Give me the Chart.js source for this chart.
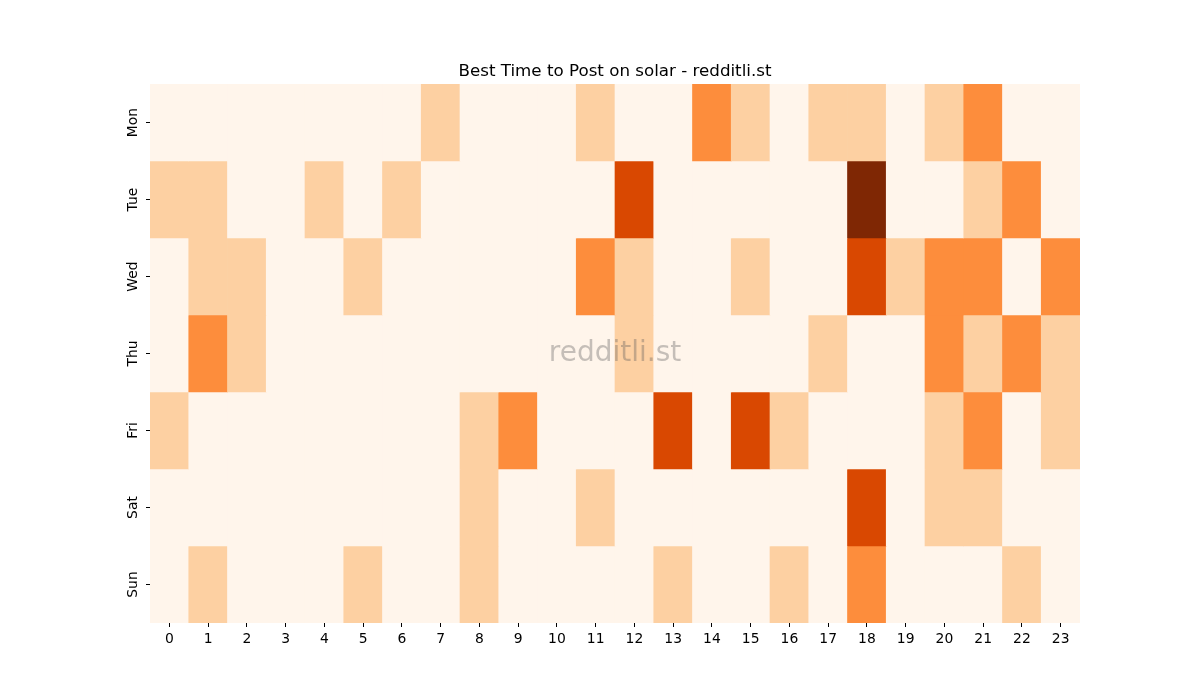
<!DOCTYPE html>
<html>
<head>
<meta charset="utf-8">
<script src="https://cdn.jsdelivr.net/npm/chart.js@4"></script>
<style>
  html, body { margin: 0; padding: 0; background: #fff; }
  #wrap { width: 1200px; height: 700px; }
</style>
</head>
<body>
<div id="wrap"><canvas id="heatmap"></canvas></div>
<script>
const days = ['Mon', 'Tue', 'Wed', 'Thu', 'Fri', 'Sat', 'Sun'];
const hours = ['0', '1', '2', '3', '4', '5', '6', '7', '8', '9', '10', '11',
               '12', '13', '14', '15', '16', '17', '18', '19', '20', '21', '22', '23'];

// post counts per hour, one array per day
const mon = [0, 0, 0, 0, 0, 0, 0, 1, 0, 0, 0, 1, 0, 0, 2, 1, 0, 1, 1, 0, 1, 2, 0, 0];
const tue = [1, 1, 0, 0, 1, 0, 1, 0, 0, 0, 0, 0, 3, 0, 0, 0, 0, 0, 4, 0, 0, 1, 2, 0];
const wed = [0, 1, 1, 0, 0, 1, 0, 0, 0, 0, 0, 2, 1, 0, 0, 1, 0, 0, 3, 1, 2, 2, 0, 2];
const thu = [0, 2, 1, 0, 0, 0, 0, 0, 0, 0, 0, 0, 1, 0, 0, 0, 0, 1, 0, 0, 2, 1, 2, 1];
const fri = [1, 0, 0, 0, 0, 0, 0, 0, 1, 2, 0, 0, 0, 3, 0, 3, 1, 0, 0, 0, 1, 2, 0, 1];
const sat = [0, 0, 0, 0, 0, 0, 0, 0, 1, 0, 0, 1, 0, 0, 0, 0, 0, 0, 3, 0, 1, 1, 0, 0];
const sun = [0, 1, 0, 0, 0, 1, 0, 0, 1, 0, 0, 0, 0, 1, 0, 0, 1, 0, 2, 0, 0, 0, 1, 0];

const rows = [mon, tue, wed, thu, fri, sat, sun];

// Oranges colour steps for 0..4
const palette = ['#fff5eb', '#fdd0a2', '#fd8d3c', '#d94801', '#7f2704'];

const watermark = {
    id: 'watermark',
    afterDatasetsDraw(chart) {
        const { ctx, chartArea } = chart;
        ctx.save();
        ctx.font = '28px "DejaVu Sans"';
        ctx.fillStyle = 'rgba(90, 90, 90, 0.35)';
        ctx.textAlign = 'center';
        ctx.textBaseline = 'middle';
        ctx.fillText('redditli.st', (chartArea.left + chartArea.right) / 2, (chartArea.top + chartArea.bottom) / 2);
        ctx.restore();
    }
};

// vertical day labels, rotated like the original
const dayLabels = {
    id: 'dayLabels',
    afterDraw(chart) {
        const { ctx } = chart;
        const yScale = chart.scales.y;
        ctx.save();
        ctx.font = '13.9px "DejaVu Sans"';
        ctx.fillStyle = '#000';
        ctx.textAlign = 'center';
        ctx.textBaseline = 'middle';
        days.forEach((d, i) => {
            const y = yScale.getPixelForValue(i + 0.5);
            ctx.save();
            ctx.translate(yScale.right - 17, y);
            ctx.rotate(-Math.PI / 2);
            ctx.fillText(d, 0, 0);
            ctx.restore();
        });
        ctx.restore();
    }
};

const datasets = rows.map((row, i) => ({
    label: days[i],
    data: row.map(() => 1),
    backgroundColor: row.map(v => palette[v]),
    borderWidth: 0,
    barPercentage: 1,
    categoryPercentage: 1
}));

new Chart(document.getElementById('heatmap'), {
    type: 'bar',
    data: { labels: hours, datasets: datasets },
    plugins: [watermark, dayLabels],
    options: {
        responsive: true,
        maintainAspectRatio: false,
        animation: false,
        layout: { padding: { left: 0, right: 120, top: 0, bottom: 0 } },
        plugins: {
            legend: { display: false },
            tooltip: { enabled: false },
            title: {
                display: true,
                fullSize: false,
                text: 'Best Time to Post on solar - redditli.st',
                color: '#000',
                font: { family: 'DejaVu Sans', size: 16.7, weight: 'normal' },
                padding: { top: 62, bottom: 2 }
            }
        },
        scales: {
            x: {
                stacked: true,
                grid: { display: true, drawOnChartArea: false, offset: false, tickLength: 4, color: '#000' },
                border: { display: false },
                ticks: { color: '#000', font: { family: 'DejaVu Sans', size: 13.9 }, padding: 4, maxRotation: 0, autoSkip: false },
                afterFit(scale) { scale.height = 77; }
            },
            y: {
                type: 'linear',
                stacked: true,
                min: 0,
                max: 7,
                reverse: true,
                grid: { display: true, drawOnChartArea: false, tickLength: 4, color: '#000' },
                border: { display: false },
                afterBuildTicks(scale) {
                    scale.ticks = days.map((d, i) => ({ value: i + 0.5 }));
                },
                ticks: { display: false },
                afterFit(scale) { scale.width = 150; }
            }
        }
    }
});
</script>
</body>
</html>
